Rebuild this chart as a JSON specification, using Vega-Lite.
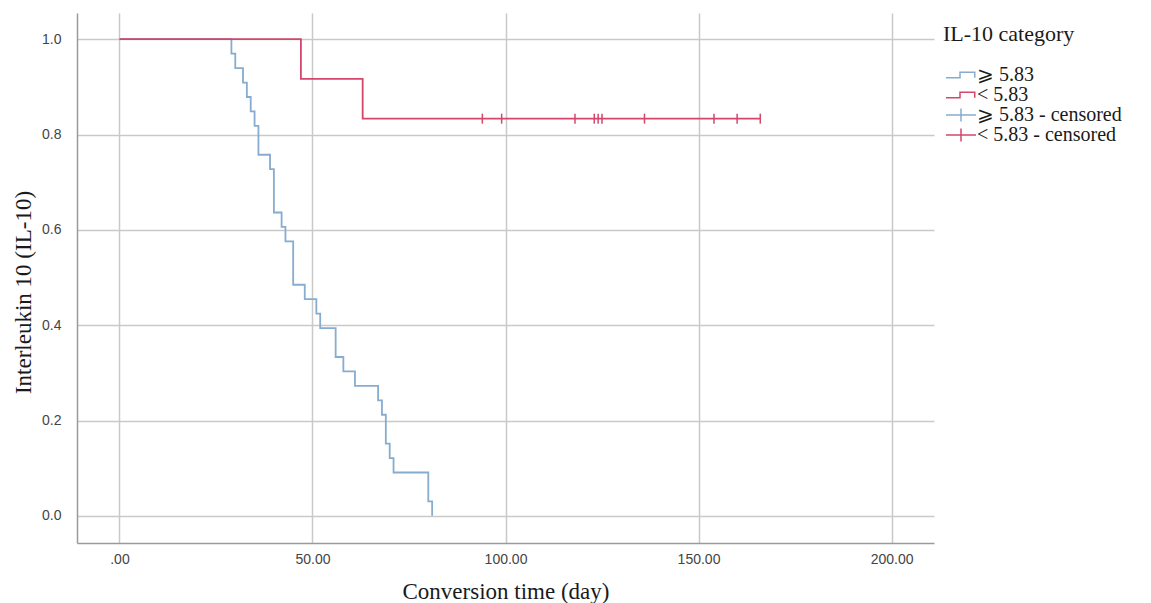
{
  "$schema": "https://vega.github.io/schema/vega-lite/v6.json",
  "width": 857,
  "height": 530,
  "autosize": {"type": "none"},
  "padding": {"left": 77, "top": 13, "right": 217, "bottom": 60},
  "background": "white",
  "config": {
    "view": {"stroke": null},
    "axis": {
      "grid": true,
      "gridColor": "#c9c9c9",
      "gridWidth": 1.5,
      "domainColor": "#9a9a9a",
      "domainWidth": 1.5,
      "ticks": false,
      "labelFont": "Liberation Sans",
      "labelFontSize": 14,
      "labelColor": "#444444",
      "titleFont": "Liberation Serif",
      "titleFontSize": 23,
      "titleFontWeight": "normal",
      "titleColor": "#1a1a1a"
    },
    "legend": {
      "titleFont": "Liberation Serif",
      "titleFontSize": 22,
      "titleFontWeight": "normal",
      "titleColor": "#1a1a1a",
      "labelFont": "Liberation Serif",
      "labelFontSize": 20,
      "labelColor": "#1a1a1a",
      "symbolSize": 100,
      "symbolStrokeWidth": 1.5
    }
  },
  "datasets": {
    "curves": [
      {"group": "⩾ 5.83", "day": 0, "survival": 1},
      {"group": "⩾ 5.83", "day": 29, "survival": 0.9697},
      {"group": "⩾ 5.83", "day": 30, "survival": 0.9394},
      {"group": "⩾ 5.83", "day": 32, "survival": 0.9091},
      {"group": "⩾ 5.83", "day": 33, "survival": 0.8788},
      {"group": "⩾ 5.83", "day": 34, "survival": 0.8485},
      {"group": "⩾ 5.83", "day": 35, "survival": 0.8182},
      {"group": "⩾ 5.83", "day": 36, "survival": 0.7576},
      {"group": "⩾ 5.83", "day": 39, "survival": 0.7273},
      {"group": "⩾ 5.83", "day": 40, "survival": 0.6364},
      {"group": "⩾ 5.83", "day": 42, "survival": 0.6061},
      {"group": "⩾ 5.83", "day": 43, "survival": 0.5758},
      {"group": "⩾ 5.83", "day": 45, "survival": 0.4848},
      {"group": "⩾ 5.83", "day": 48, "survival": 0.4545},
      {"group": "⩾ 5.83", "day": 51, "survival": 0.4242},
      {"group": "⩾ 5.83", "day": 52, "survival": 0.3939},
      {"group": "⩾ 5.83", "day": 56, "survival": 0.3333},
      {"group": "⩾ 5.83", "day": 58, "survival": 0.3030},
      {"group": "⩾ 5.83", "day": 61, "survival": 0.2727},
      {"group": "⩾ 5.83", "day": 67, "survival": 0.2424},
      {"group": "⩾ 5.83", "day": 68, "survival": 0.2121},
      {"group": "⩾ 5.83", "day": 69, "survival": 0.1515},
      {"group": "⩾ 5.83", "day": 70, "survival": 0.1212},
      {"group": "⩾ 5.83", "day": 71, "survival": 0.0909},
      {"group": "⩾ 5.83", "day": 80, "survival": 0.0303},
      {"group": "⩾ 5.83", "day": 81, "survival": 0},
      {"group": "< 5.83", "day": 0, "survival": 1},
      {"group": "< 5.83", "day": 47, "survival": 0.9167},
      {"group": "< 5.83", "day": 63, "survival": 0.8333},
      {"group": "< 5.83", "day": 166, "survival": 0.8333}
    ],
    "censored": [
      {"group": "< 5.83 - censored", "day": 94, "survival": 0.8333},
      {"group": "< 5.83 - censored", "day": 99, "survival": 0.8333},
      {"group": "< 5.83 - censored", "day": 118, "survival": 0.8333},
      {"group": "< 5.83 - censored", "day": 123, "survival": 0.8333},
      {"group": "< 5.83 - censored", "day": 124, "survival": 0.8333},
      {"group": "< 5.83 - censored", "day": 125, "survival": 0.8333},
      {"group": "< 5.83 - censored", "day": 136, "survival": 0.8333},
      {"group": "< 5.83 - censored", "day": 154, "survival": 0.8333},
      {"group": "< 5.83 - censored", "day": 160, "survival": 0.8333},
      {"group": "< 5.83 - censored", "day": 166, "survival": 0.8333}
    ]
  },
  "layer": [
    {
      "data": {"name": "curves"},
      "mark": {"type": "line", "interpolate": "step-after", "strokeWidth": 1.8},
      "encoding": {
        "x": {
          "field": "day",
          "type": "quantitative",
          "scale": {"domain": [-11, 211], "nice": false, "zero": false},
          "axis": {
            "values": [0, 50, 100, 150, 200],
            "labelExpr": "datum.value == 0 ? '.00' : format(datum.value, '.2f')",
            "labelPadding": 9,
            "title": "Conversion time (day)",
            "titleBaseline": "middle",
            "titleY": 48
          }
        },
        "y": {
          "field": "survival",
          "type": "quantitative",
          "scale": {"domain": [-0.057, 1.055], "nice": false, "zero": false},
          "axis": {
            "values": [0, 0.2, 0.4, 0.6, 0.8, 1],
            "format": ".1f",
            "labelPadding": 16,
            "title": "Interleukin 10 (IL-10)",
            "titleX": -54,
            "titleY": 279,
            "titleBaseline": "middle",
            "titleAlign": "center"
          }
        },
        "color": {
          "field": "group",
          "type": "nominal",
          "scale": {
            "domain": ["⩾ 5.83", "< 5.83", "⩾ 5.83 - censored", "< 5.83 - censored"],
            "range": ["#86acd0", "#d4476b", "#86acd0", "#d4476b"]
          },
          "legend": {
            "title": "IL-10 category",
            "orient": "none",
            "legendX": 866,
            "legendY": 11,
            "titlePadding": 19,
            "rowPadding": 0,
            "symbolOffset": 8,
            "labelOffset": 6
          }
        }
      }
    },
    {
      "data": {"name": "censored"},
      "mark": {"type": "point", "shape": "M0,-1L0,1", "size": 100, "filled": false, "strokeWidth": 1.5, "opacity": 1},
      "encoding": {
        "x": {"field": "day", "type": "quantitative"},
        "y": {"field": "survival", "type": "quantitative"},
        "color": {"field": "group", "type": "nominal"}
      }
    },
    {
      "data": {"values": []},
      "mark": {"type": "point", "filled": false, "opacity": 1},
      "encoding": {
        "color": {"field": "group", "type": "nominal"},
        "shape": {
          "field": "group",
          "type": "nominal",
          "scale": {
            "domain": ["⩾ 5.83", "< 5.83", "⩾ 5.83 - censored", "< 5.83 - censored"],
            "range": [
              "M-3,0.55L-0.2,0.55L-0.2,-0.55L2.75,-0.55L2.75,0.55",
              "M-3,0.55L-0.2,0.55L-0.2,-0.55L2.75,-0.55L2.75,0.55",
              "M-3,0L3,0M0,-1.3L0,1.3",
              "M-3,0L3,0M0,-1.3L0,1.3"
            ]
          },
          "legend": {
            "title": "IL-10 category",
            "orient": "none",
            "legendX": 866,
            "legendY": 11,
            "titlePadding": 19,
            "rowPadding": 0,
            "symbolOffset": 8,
            "labelOffset": 6
          }
        }
      }
    }
  ]
}
